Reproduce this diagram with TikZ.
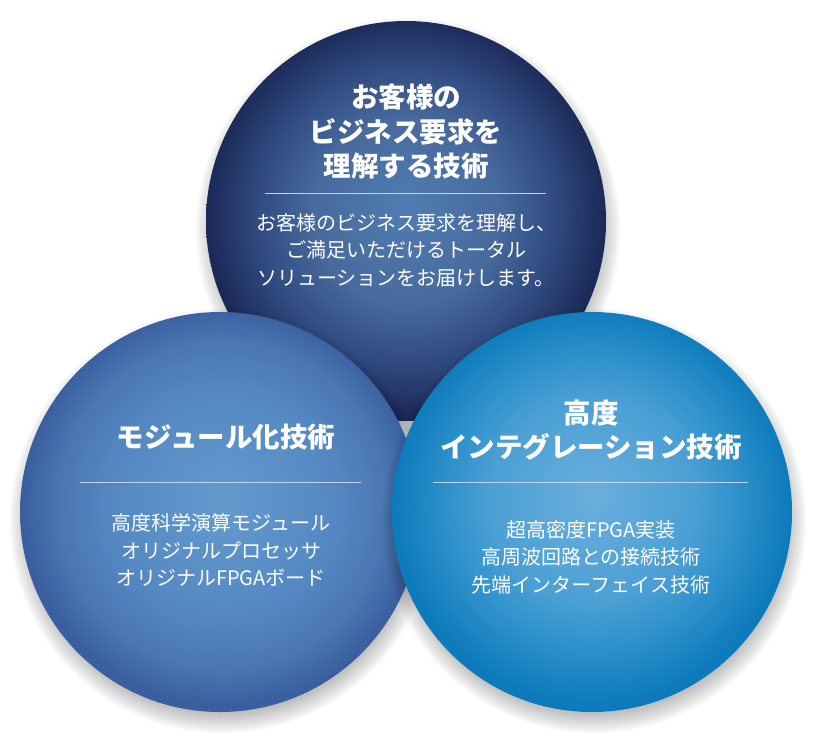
\documentclass[tikz,border=0pt]{standalone}
\usepackage{fontspec}
\usetikzlibrary{calc}
\newfontfamily\jp{Noto Sans CJK JP}
\definecolor{tA}{HTML}{4F7DB1}
\definecolor{tB}{HTML}{486A9D}
\definecolor{tC}{HTML}{304B81}
\definecolor{tD}{HTML}{1B2957}
\definecolor{lA}{HTML}{639BCE}
\definecolor{lB}{HTML}{5588C2}
\definecolor{lC}{HTML}{4A76B2}
\definecolor{lD}{HTML}{3A5E9E}
\definecolor{rA}{HTML}{6AAFDD}
\definecolor{rB}{HTML}{4A9FD4}
\definecolor{rC}{HTML}{3092CC}
\definecolor{rD}{HTML}{0C7ABB}
\definecolor{rule}{HTML}{C5D3EA}
\pgfdeclareradialshading{topshade}{\pgfpoint{0bp}{1.5bp}}{color(0bp)=(tA); color(11.5bp)=(tB); color(18.5bp)=(tC); color(25bp)=(tD); color(50bp)=(tD)}
\pgfdeclareradialshading{leftshade}{\pgfpoint{0.5bp}{1.5bp}}{color(0bp)=(lA); color(14bp)=(lB); color(20.5bp)=(lC); color(25bp)=(lD); color(50bp)=(lD)}
\pgfdeclareradialshading{rightshade}{\pgfpoint{0bp}{2bp}}{color(0bp)=(rA); color(13bp)=(rB); color(17.8bp)=(rC); color(25bp)=(rD); color(50bp)=(rD)}
\begin{document}
\begin{tikzpicture}[x=1pt,y=-1pt,
  ball/.style={circle,minimum size=400pt,inner sep=0pt,draw=none},
  title/.style={align=center,text=white,inner sep=0pt,font=\jp\bfseries\fontsize{27.5}{34.5}\selectfont},
  body/.style={align=center,text=white,inner sep=0pt,font=\jp\fontsize{20}{27.5}\selectfont},
  sep/.style={draw=rule,line width=0.9pt}]
\useasboundingbox (0,0) rectangle (832,753);
\newcommand\mkshadow[2]{%
  \foreach \k in {0,...,11}{
    \fill[black,opacity=0.028] ($(#1,#2)+(2,9)$) circle ({212-2*\k});
  }}
% top circle
\mkshadow{406}{221}
\node[ball,shading=topshade] (topc) at (406,221) {};
% left circle
\mkshadow{220}{512}
\node[ball,shading=leftshade] (leftc) at (220,512) {};
% right circle
\mkshadow{592}{512}
\node[ball,shading=rightshade] (rightc) at (592,512) {};
% top texts
\node[title] (tt) at (406,132) {お客様の\\ビジネス要求を\\理解する技術};
\coordinate (ta) at (265,193); \coordinate (tb) at (546,193);
\draw[sep] (ta) -- (tb);
\node[body] (tx) at (406,250) {お客様のビジネス要求を理解し、\\ご満足いただけるトータル\\ソリューションをお届けします。};
% left texts
\node[title] (lt) at (226,437) {モジュール化技術};
\coordinate (la) at (80,482); \coordinate (lb) at (361,482);
\draw[sep] (la) -- (lb);
\node[body] (lx) at (221,550) {高度科学演算モジュール\\オリジナルプロセッサ\\オリジナルFPGAボード};
% right texts
\node[title] (rt) at (591,430) {高度\\インテグレーション技術};
\coordinate (ra) at (433,482); \coordinate (rb) at (748,482);
\draw[sep] (ra) -- (rb);
\node[body] (rx) at (591,557) {超高密度FPGA実装\\高周波回路との接続技術\\先端インターフェイス技術};
\end{tikzpicture}
\end{document}
